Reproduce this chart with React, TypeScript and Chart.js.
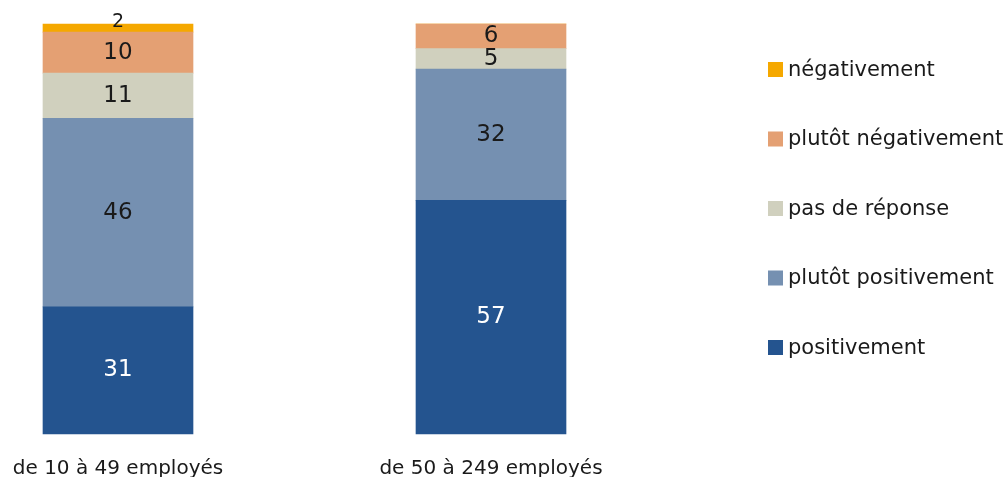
import React, { useEffect, useRef } from "react";
import { Chart, registerables } from "chart.js";

Chart.register(...registerables);

const categories = ["de 10 à 49 employés", "de 50 à 249 employés"];
const seriesNames = [
  "positivement",
  "plutôt positivement",
  "pas de réponse",
  "plutôt négativement",
  "négativement",
];
const positivement = [31, 57];
const plutotPositivement = [46, 32];
const pasDeReponse = [11, 5];
const plutotNegativement = [10, 6];
const negativement = [2, 0];
const seriesColors = ["#24548f", "#7590b1", "#d0d0be", "#e4a073", "#f5a800"];
const labelColors = ["#ffffff", "#1a1a1a", "#1a1a1a", "#1a1a1a", "#1a1a1a"];

const FONT = "'DejaVu Sans', sans-serif";

const valueLabels = {
  id: "valueLabels",
  afterDatasetsDraw(chart: any) {
    const ctx = chart.ctx;
    ctx.save();
    ctx.textAlign = "center";
    ctx.textBaseline = "middle";
    chart.data.datasets.forEach((ds: any, di: number) => {
      const meta = chart.getDatasetMeta(di);
      meta.data.forEach((bar: any, i: number) => {
        const v = ds.data[i];
        if (!v) return;
        const top = Math.min(bar.y, bar.base);
        const h = Math.abs(bar.base - bar.y);
        let y = top + h / 2;
        let size = 23;
        if (h < 14) {
          size = 19;
          y = top - 2;
        }
        ctx.font = `${size}px ${FONT}`;
        ctx.fillStyle = labelColors[di];
        ctx.fillText(String(v), bar.x, y);
      });
    });
    ctx.restore();
  },
};

const sideLegend = {
  id: "sideLegend",
  afterDraw(chart: any) {
    const ctx = chart.ctx;
    ctx.save();
    ctx.textAlign = "left";
    ctx.textBaseline = "middle";
    ctx.font = `21px ${FONT}`;
    const n = chart.data.datasets.length;
    for (let k = 0; k < n; k++) {
      const di = n - 1 - k;
      const ds = chart.data.datasets[di];
      const cy = 69.5 + k * 69.5;
      ctx.fillStyle = ds.backgroundColor;
      ctx.fillRect(768, cy - 7.5, 15, 15);
      ctx.fillStyle = "#1a1a1a";
      ctx.fillText(ds.label, 788, cy + 1);
    }
    ctx.restore();
  },
};

export default function App() {
  const ref = useRef<HTMLCanvasElement | null>(null);
  useEffect(() => {
    if (!ref.current) return;
    const values = [positivement, plutotPositivement, pasDeReponse, plutotNegativement, negativement];
    const chart = new Chart(ref.current, {
      type: "bar",
      data: {
        labels: categories,
        datasets: values.map((d, i) => ({
          label: seriesNames[i],
          data: d,
          backgroundColor: seriesColors[i],
          borderWidth: 0,
          barThickness: 150,
          clip: false as any,
        })),
      },
      options: {
        animation: false,
        responsive: false,
        maintainAspectRatio: false,
        layout: { padding: { left: 118, right: 514, top: 24, bottom: -27 } },
        plugins: { legend: { display: false }, tooltip: { enabled: false } },
        scales: {
          x: {
            stacked: true,
            offset: false,
            grid: { display: false, drawTicks: false },
            border: { display: false },
            ticks: { color: "#1a1a1a", font: { family: FONT, size: 20 }, padding: 23, maxRotation: 0, autoSkip: false },
            afterFit: (scale: any) => {
              scale.paddingLeft = 0;
              scale.paddingRight = 0;
            },
          },
          y: { stacked: true, min: 0, max: 100, display: false },
        },
      },
      plugins: [valueLabels, sideLegend],
    });
    return () => chart.destroy();
  }, []);
  return (
    <div style={{ position: "absolute", left: 0, top: 0, width: 1005, height: 477, background: "#fff" }}>
      <canvas ref={ref} width={1005} height={477} />
    </div>
  );
}
